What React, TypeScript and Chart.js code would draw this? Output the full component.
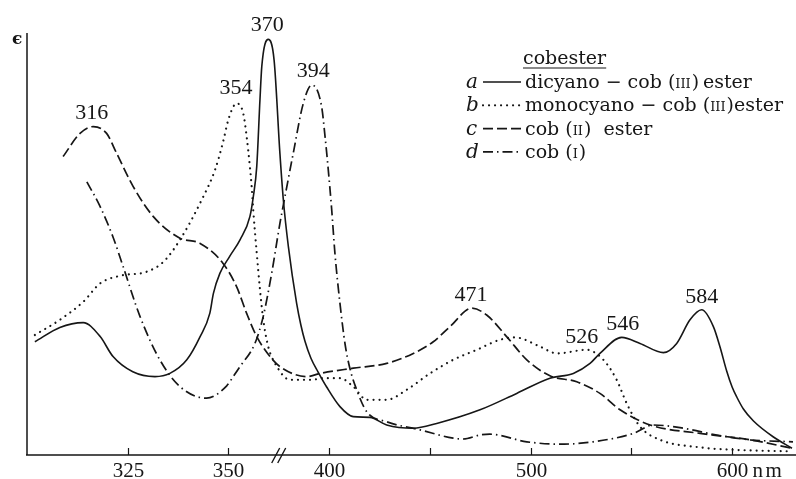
import { useEffect, useRef } from "react";
import { Chart, registerables } from "chart.js";

Chart.register(...registerables);

// ---- data (wavelength in nm, extinction ε in arbitrary units) ----
const A_NM = [302.0, 308.2, 314.0, 318.2, 321.4, 326.3, 331.8, 335.5, 339.7, 343.0, 345.4, 346.3, 347.9, 350.6, 355.8, 360.7, 362.4, 364.1, 365.7, 366.6, 369.8, 372.7, 375.6, 377.3, 379.8, 383.9, 386.0, 388.0, 391.0, 394.5, 398.8, 405.4, 412.0, 420.3, 428.6, 441.8, 453.4, 474.9, 493.1, 509.6, 521.2, 529.5, 534.4, 545.2, 554.3, 565.9, 572.5, 579.1, 584.9, 590.7, 594.0, 597.3, 600.0, 602.3, 605.6, 610.6, 620.5, 629.7];
const A_EPS = [28.3, 31.9, 33.1, 29.6, 24.6, 20.8, 19.6, 20.4, 23.8, 29.6, 35.4, 40.4, 45.4, 49.6, 53.8, 59.6, 64.6, 72.1, 88.8, 97.1, 103.9, 98.8, 75.4, 63.8, 52.1, 37.9, 32.5, 28.5, 24.2, 20.8, 17.0, 12.1, 9.6, 9.4, 7.5, 6.7, 7.9, 11.3, 15.4, 19.2, 20.4, 22.9, 25.4, 29.4, 27.9, 25.6, 27.9, 33.8, 36.3, 32.1, 27.0, 21.0, 17.0, 14.5, 11.5, 8.5, 4.5, 1.7];

const B_NM = [302.0, 308.2, 314.0, 318.2, 323.1, 329.7, 333.9, 338.0, 343.4, 346.7, 348.7, 350.0, 354.1, 357.4, 359.1, 360.7, 361.6, 362.4, 364.1, 365.7, 367.3, 369.8, 373.2, 380.6, 392.2, 395.5, 405.4, 412.0, 418.7, 428.6, 438.5, 450.1, 461.6, 473.3, 484.8, 492.3, 504.7, 513.0, 527.8, 536.1, 542.7, 547.7, 554.3, 564.2, 584.1, 600.6, 630.0];
const B_EPS = [30.0, 33.8, 38.3, 42.9, 44.8, 45.8, 48.3, 53.8, 63.8, 71.3, 78.3, 83.8, 87.9, 85.4, 79.6, 72.1, 67.0, 61.0, 50.5, 41.5, 34.0, 27.1, 22.9, 18.8, 18.8, 19.2, 19.2, 17.1, 13.8, 13.8, 16.3, 20.4, 23.8, 26.3, 28.8, 29.4, 27.1, 25.4, 26.3, 23.8, 18.8, 12.9, 7.1, 3.8, 1.9, 1.3, 0.9];

const C_NM = [309.0, 313.2, 316.5, 319.8, 322.3, 326.4, 331.4, 338.0, 343.0, 348.7, 354.1, 359.1, 364.1, 370.7, 375.6, 388.9, 395.5, 412.0, 428.6, 441.8, 451.7, 460.0, 470.8, 478.2, 488.1, 498.1, 509.6, 522.9, 534.4, 544.4, 559.3, 584.1, 608.9, 629.7];
const C_EPS = [74.6, 80.4, 82.1, 80.4, 75.4, 67.1, 59.6, 54.2, 52.9, 47.9, 42.1, 35.4, 29.6, 24.6, 22.1, 19.6, 20.4, 21.7, 22.9, 25.4, 28.3, 32.1, 36.7, 35.0, 29.6, 23.8, 19.8, 18.3, 15.4, 11.3, 7.5, 5.4, 3.8, 1.7];

const D_NM = [314.9, 318.2, 321.5, 323.9, 328.1, 333.0, 338.0, 344.6, 349.6, 352.7, 355.8, 363.2, 367.3, 371.5, 375.6, 378.1, 382.2, 387.2, 391.4, 396.3, 398.0, 399.6, 401.3, 402.9, 405.4, 408.0, 410.4, 413.7, 418.7, 428.6, 445.1, 461.6, 466.6, 474.9, 479.8, 498.1, 514.6, 531.1, 551.0, 560.9, 575.8, 592.4, 608.9, 630.2];
const D_EPS = [68.3, 62.1, 54.2, 47.1, 34.6, 23.8, 17.1, 14.2, 17.3, 19.8, 22.1, 27.9, 34.6, 45.4, 57.9, 64.6, 75.4, 87.9, 92.5, 87.1, 79.6, 71.3, 61.3, 50.4, 37.9, 27.5, 21.5, 16.3, 10.8, 8.3, 6.3, 4.2, 4.0, 5.0, 5.2, 3.3, 2.7, 3.3, 5.4, 7.5, 6.7, 5.0, 3.8, 3.3];

// x-axis ticks (nm) and their labels
const TICK_NM = [325, 350, 400, 450, 500, 550, 600];
const TICK_LABELS = ["325", "350", "400", "", "500", "", "600"];
const AXIS_UNIT = "nm";
const AXIS_BREAK_NM = 375;

// peak annotations: text and anchor (nm, ε) of text baseline centre
const PEAK_TEXT = ["316", "354", "370", "394", "471", "526", "546", "584"];
const PEAK_NM = [316.1, 353.8, 369.3, 392.2, 470.4, 525.4, 545.7, 584.9];
const PEAK_EPS = [84.0, 90.2, 106.1, 94.4, 38.6, 27.9, 31.3, 38.1];

// legend
const LEGEND_TITLE = "cobester";
const LEGEND_LETTERS = ["a", "b", "c", "d"];
const LEGEND_TEXT: [string, boolean][][] = [
  [["dicyano − cob (", false], ["III", true], [")\u2009ester", false]],
  [["monocyano − cob (", false], ["III", true], [")ester", false]],
  [["cob (", false], ["II", true], [")  ester", false]],
  [["cob (", false], ["I", true], [")", false]],
];

const X_MIN_NM = 299.8;
const X_MAX_NM = 631.7;
const Y_MAX = 105.5;

const INK = "#161616";
const DASHES: number[][] = [[], [0.01, 6], [10, 4], [10, 4, 1.5, 4]];
const WIDTHS = [1.6, 2.2, 1.7, 1.7];

// the axis is stretched two-fold below 350 nm (broken scale)
function toAxis(nm: number): number {
  return nm >= 350 ? nm : 350 - 2 * (350 - nm);
}

function pts(xs: number[], ys: number[]) {
  return xs.map((x, i) => ({ x: toAxis(x), y: ys[i] }));
}

const decorPlugin = {
  id: "decor",
  afterDraw(chart: any) {
    const ctx: CanvasRenderingContext2D = chart.ctx;
    const xs = chart.scales.x;
    const ys = chart.scales.y;
    const { left, top, bottom } = chart.chartArea;
    const W = chart.width;
    ctx.save();
    ctx.strokeStyle = INK;
    ctx.fillStyle = INK;
    ctx.lineWidth = 1.5;
    ctx.setLineDash([]);

    // axes
    ctx.beginPath();
    ctx.moveTo(left + 1, top);
    ctx.lineTo(left + 1, bottom);
    ctx.moveTo(left, bottom);
    ctx.lineTo(W, bottom);
    ctx.stroke();

    // ticks (inward) and labels
    ctx.font = "21px 'Liberation Serif'";
    ctx.textAlign = "center";
    ctx.textBaseline = "alphabetic";
    TICK_NM.forEach((nm, i) => {
      const px = Math.round(xs.getPixelForValue(toAxis(nm))) + 0.5;
      ctx.beginPath();
      ctx.moveTo(px, bottom);
      ctx.lineTo(px, bottom - 7);
      ctx.lineWidth = 1.2;
      ctx.stroke();
      if (TICK_LABELS[i]) ctx.fillText(TICK_LABELS[i], px, 477);
      if (i === TICK_NM.length - 1) {
        ctx.textAlign = "left";
        ctx.fillText(AXIS_UNIT[0], px + 20, 477);
        ctx.fillText(AXIS_UNIT[1], px + 33, 477);
        ctx.textAlign = "center";
      }
    });

    // axis break mark
    const bx = xs.getPixelForValue(toAxis(AXIS_BREAK_NM));
    ctx.lineWidth = 1.4;
    ctx.beginPath();
    ctx.moveTo(bx - 7, bottom + 8);
    ctx.lineTo(bx + 1, bottom - 7);
    ctx.moveTo(bx - 1, bottom + 8);
    ctx.lineTo(bx + 7, bottom - 7);
    ctx.stroke();

    // y-axis symbol
    ctx.font = "bold 17px 'DejaVu Serif'";
    ctx.textAlign = "left";
    ctx.fillText("ϵ", 12, 44);

    // peak labels
    ctx.font = "22px 'Liberation Serif'";
    ctx.textAlign = "center";
    PEAK_TEXT.forEach((t, i) => {
      ctx.fillText(t, xs.getPixelForValue(toAxis(PEAK_NM[i])), ys.getPixelForValue(PEAK_EPS[i]));
    });

    // legend
    const lx = 466;
    const sx0 = 483;
    const sx1 = 521;
    const tx = 525;
    ctx.textAlign = "left";
    ctx.font = "19px 'DejaVu Serif'";
    ctx.fillText(LEGEND_TITLE, 523, 64);
    const tw = ctx.measureText(LEGEND_TITLE).width;
    ctx.lineWidth = 1.2;
    ctx.beginPath();
    ctx.moveTo(523, 68);
    ctx.lineTo(523 + tw, 68);
    ctx.stroke();
    LEGEND_LETTERS.forEach((letter, i) => {
      const base = 88 + i * 23.3;
      ctx.font = "italic 20px 'DejaVu Serif'";
      ctx.fillText(letter, lx, base);
      ctx.save();
      ctx.lineWidth = WIDTHS[i];
      ctx.lineCap = i === 1 ? "round" : "butt";
      ctx.setLineDash(DASHES[i]);
      ctx.beginPath();
      ctx.moveTo(sx0, base - 6);
      ctx.lineTo(sx1, base - 6);
      ctx.stroke();
      ctx.restore();
      let x = tx;
      LEGEND_TEXT[i].forEach(([s, small]) => {
        ctx.font = small ? "13px 'DejaVu Serif'" : "19px 'DejaVu Serif'";
        ctx.fillText(s, x, base);
        x += ctx.measureText(s).width + (small ? 1 : 0);
      });
    });
    ctx.restore();
  },
};

export default function App() {
  const ref = useRef<HTMLCanvasElement | null>(null);
  useEffect(() => {
    if (!ref.current) return;
    const series = [
      pts(A_NM, A_EPS),
      pts(B_NM, B_EPS),
      pts(C_NM, C_EPS),
      pts(D_NM, D_EPS),
    ];
    const chart = new Chart(ref.current, {
      type: "line",
      data: {
        datasets: series.map((data, i) => ({
          label: LEGEND_LETTERS[i],
          data,
          borderColor: INK,
          borderWidth: WIDTHS[i],
          borderDash: DASHES[i],
          borderCapStyle: i === 1 ? "round" : "butt",
          pointRadius: 0,
          fill: false,
          cubicInterpolationMode: "monotone",
        })) as any,
      },
      options: {
        animation: false,
        responsive: false,
        devicePixelRatio: 1,
        layout: { padding: { left: 26, right: 0, top: 33, bottom: 24 } },
        plugins: { legend: { display: false }, tooltip: { enabled: false } },
        scales: {
          x: { type: "linear", display: false, min: toAxis(X_MIN_NM), max: toAxis(X_MAX_NM) },
          y: { type: "linear", display: false, min: 0, max: Y_MAX },
        },
      },
      plugins: [decorPlugin],
    });
    return () => chart.destroy();
  }, []);
  return (
    <div style={{ position: "absolute", left: 0, top: 0, width: 796, height: 479, background: "#fff" }}>
      <canvas ref={ref} width={796} height={479} />
    </div>
  );
}
